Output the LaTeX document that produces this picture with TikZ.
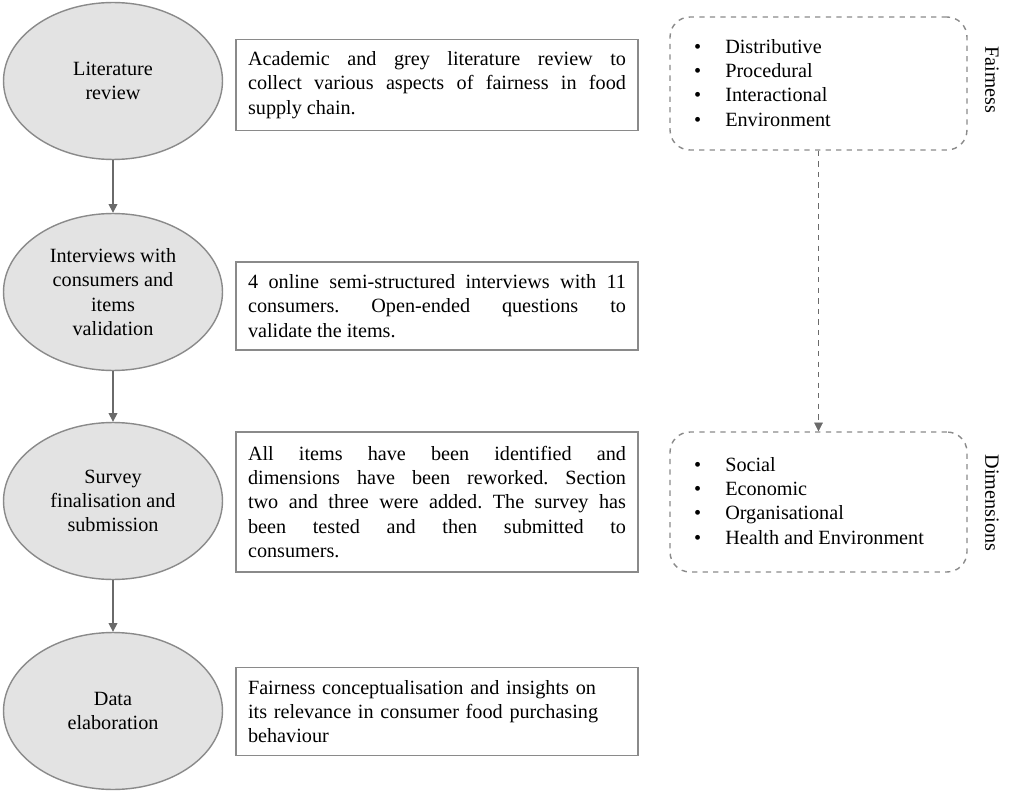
\documentclass[tikz,border=0pt]{standalone}
\usepackage{fontspec}
\setmainfont{Liberation Serif}
\usepackage{xcolor}
\usetikzlibrary{positioning,arrows.meta,shapes.geometric}
\frenchspacing

\definecolor{stageFill}{HTML}{E3E3E3}
\definecolor{stageLine}{HTML}{8A8A8A}
\definecolor{flowLine}{HTML}{6A6A6A}

\begin{document}
\begin{tikzpicture}[x=0.02cm, y=-0.02cm,
    every node/.style={font=\fontsize{11.5}{13.8}\selectfont},
    stage/.style={ellipse, draw=stageLine, fill=stageFill, thick,
        minimum width=4.38cm, minimum height=3.14cm, inner sep=0pt, align=center},
    note/.style={draw=stageLine, thick, text width=7.56cm, inner sep=0.24cm,
        minimum height=1.76cm},
    group/.style={draw=stageLine, thick, dashed, rounded corners=0.4cm,
        minimum width=5.94cm, minimum height=2.8cm},
    flow/.style={flowLine, thick, -{Triangle[length=5pt,width=5pt]}}
]
    \useasboundingbox (0,0) rectangle (1013,797);

    % Stages
    \node[stage] (lit) at (113,81) {Literature\\review};
    \node[stage] (int) at (113,292) {Interviews with\\consumers and\\items\\validation};
    \node[stage] (sur) at (113,501) {Survey\\finalisation and\\submission};
    \node[stage] (dat) at (113,711) {Data\\elaboration};

    \draw[flow] (lit) -- (int);
    \draw[flow] (int) -- (sur);
    \draw[flow] (sur) -- (dat);

    % Descriptions
    \node[note, align=justify] (litTxt) at (437,85) {Academic and grey literature review to\linebreak
        collect various aspects of fairness in food\linebreak supply chain.};
    \node[note, align=justify] (intTxt) at (437,306) {4 online semi-structured interviews with 11\linebreak
        consumers. Open-ended questions to\linebreak validate the items.};
    \node[note, align=justify, minimum height=2.8cm] (surTxt) at (437,502) {All items have been identified and\linebreak
        dimensions have been reworked. Section\linebreak two and three were added. The survey has\linebreak
        been tested and then submitted to\linebreak consumers.};
    \node[note, align=left] (datTxt) at (437,711.5) {Fairness conceptualisation and insights on\\
        its relevance in consumer food purchasing\\ behaviour};

    % Fairness and dimensions
    \node[group, minimum height=2.66cm] (fair) at (818.5,83.5) {};
    \node[anchor=west] (fairList) at (688,85) {\begin{tabular}{@{}l@{\hspace{0.48cm}}l@{}}
        \textbullet & Distributive\\ \textbullet & Procedural\\
        \textbullet & Interactional\\ \textbullet & Environment\end{tabular}};
    \node[rotate=-90] (fairLbl) at (992,80) {Fairness};

    \node[group] (dim) at (818.5,502) {};
    \node[anchor=west] (dimList) at (688,503) {\begin{tabular}{@{}l@{\hspace{0.48cm}}l@{}}
        \textbullet & Social\\ \textbullet & Economic\\
        \textbullet & Organisational\\ \textbullet & Health and Environment\end{tabular}};
    \node[rotate=-90] (dimLbl) at (992,503) {Dimensions};

    \draw[flow, dashed, thin] (fair) -- (dim);
\end{tikzpicture}
\end{document}
